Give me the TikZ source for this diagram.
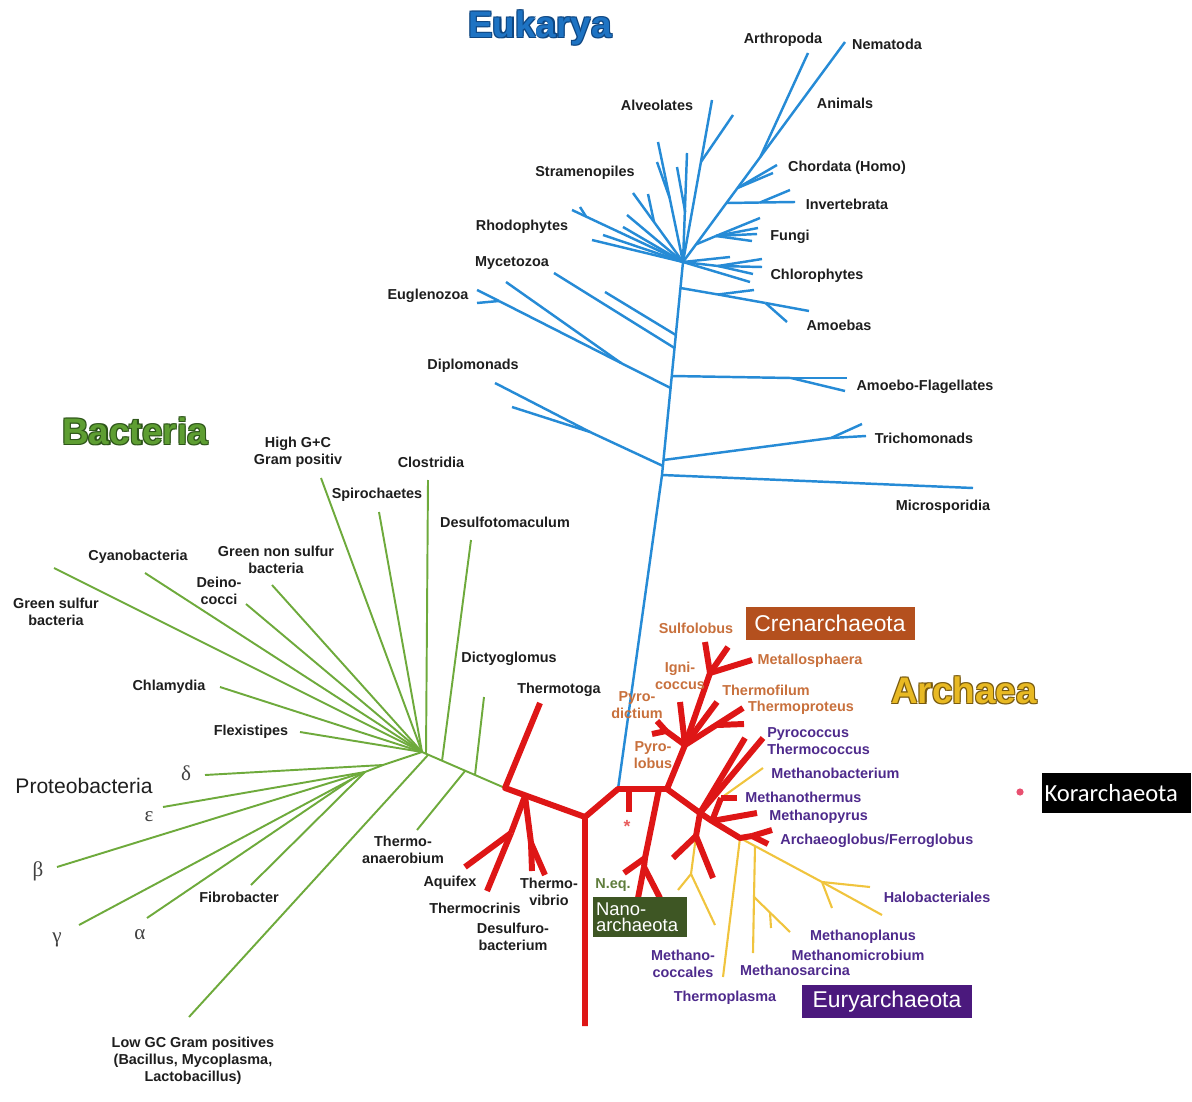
\documentclass[tikz,border=0pt]{standalone}
\usepackage{fontspec}
\setmainfont{Liberation Sans}
\newfontfamily\greekfont{Liberation Serif}
\newfontfamily\calfont{Carlito}

\definecolor{eukblue}{RGB}{38,139,214}
\definecolor{eukfill}{RGB}{30,115,195}
\definecolor{eukedge}{RGB}{14,70,130}
\definecolor{bacgreen}{RGB}{110,170,60}
\definecolor{bacfill}{RGB}{94,158,50}
\definecolor{bacedge}{RGB}{45,85,25}
\definecolor{arcred}{RGB}{222,22,22}
\definecolor{euryel}{RGB}{240,196,62}
\definecolor{arcfill}{RGB}{232,185,35}
\definecolor{arcedge}{RGB}{120,90,15}
\definecolor{crentext}{RGB}{200,112,60}
\definecolor{crenbox}{RGB}{180,80,30}
\definecolor{eurytext}{RGB}{78,42,140}
\definecolor{eurybox}{RGB}{75,25,125}
\definecolor{nanobox}{RGB}{62,86,36}
\definecolor{nanotext}{RGB}{95,125,60}
\definecolor{korpink}{RGB}{232,80,112}
\definecolor{labink}{RGB}{30,30,30}

% text with a darker rim, for the three domain titles
\newcommand{\rimtext}[3]{%
  \rlap{\color{#2}\hspace*{0.7pt}\raisebox{-0.7pt}{#3}}%
  \rlap{\color{#2}\hspace*{-0.5pt}\raisebox{0.5pt}{#3}}%
  \rlap{\color{#2}\hspace*{0.7pt}\raisebox{0.5pt}{#3}}%
  \rlap{\color{#2}\hspace*{-0.5pt}\raisebox{-0.7pt}{#3}}%
  \textcolor{#1}{#3}}

\tikzset{
  euk/.style={draw=eukblue, line width=1.4pt, line join=round},
  bac/.style={draw=bacgreen, line width=1.1pt},
  arc/.style={draw=arcred, line width=3.4pt, line join=round},
  eury/.style={draw=euryel, line width=1.2pt},
  lab/.style={font=\bfseries\fontsize{8.2}{9.8}\selectfont, text=labink, align=center, inner sep=0pt},
  crenlab/.style={lab, text=crentext},
  eurylab/.style={lab, text=eurytext},
  greek/.style={font=\greekfont\fontsize{12}{14}\selectfont, text=labink!85, inner sep=0pt},
  domtitle/.style={font=\bfseries\fontsize{21}{24}\selectfont, inner sep=0pt},
  grpbox/.style={fill=#1, text=white, font=\fontsize{13}{15}\selectfont, inner sep=0pt,
    minimum height=0.66cm}
}

\begin{document}
\begin{tikzpicture}[x=0.02cm,y=-0.02cm]
\useasboundingbox (0,0) rectangle (1192,1101);

% ---------- root of the tree
\coordinate (R1) at (505,788);
\coordinate (R0) at (585,817);
\coordinate (R2) at (618,789);
\coordinate (R3) at (667,789);
\coordinate (Rb) at (585,1026);

% ---------- Bacteria
\coordinate (H) at (422,752);
\coordinate (Dg) at (475,775);
\coordinate (Ta) at (465,771);
\coordinate (Ds) at (442,761);
\coordinate (Lg) at (428,755);
\coordinate (Cl) at (426,754);
\coordinate (P) at (383,765);
\coordinate (Q) at (365,772);
\coordinate (Q2) at (352,779);
\draw[bac] (R1) -- (H);
\draw[bac] (H) -- (P) -- (Q) -- (Q2);
\foreach \n/\x/\y/\b in {dict/484/697/Dg, tana/417/830/Ta, dsm/471/540/Ds,
    lgc/189/1017/Lg, clos/428/480/Cl, del/205/775/P, eps/163/807/Q,
    bet/57/867/Q, fib/251/885/Q, gam/79/925/Q2, alp/147/918/Q2}
  {\coordinate (b-\n) at (\x,\y); \draw[bac] (\b) -- (b-\n);}
\foreach \n/\x/\y in {hgc/321/478, spir/379/512, gns/272/585, dein/246/604,
    cyan/145/573, gsb/54/568, chla/220/687, flex/300/732}
  {\coordinate (b-\n) at (\x,\y); \draw[bac] (H) -- (b-\n);}

% ---------- Eukarya
\coordinate (emic) at (662,475);
\coordinate (ediplo) at (663,466);
\coordinate (etri) at (663.5,460);
\coordinate (eeug) at (670.6,388);
\coordinate (eaf) at (671.7,376);
\coordinate (ey1) at (674.5,348);
\coordinate (ey2) at (675.8,335);
\coordinate (eam) at (680.5,288);
\coordinate (crown) at (683,262);
\draw[euk] (R2) -- (emic) -- (crown);
% lower side branches
\coordinate (tf) at (831,438);
\coordinate (dj) at (590,432);
\coordinate (ej1) at (499,301);
\coordinate (ej2) at (621,363);
\coordinate (af1) at (791,378);
\coordinate (am1) at (718,294.5);
\coordinate (am2) at (765.5,303);
\draw[euk] (etri) -- (tf);
\draw[euk] (eeug) -- (ej2) -- (ej1);
\draw[euk] (eaf) -- (af1);
\draw[euk] (eam) -- (am1) -- (am2);
\draw[euk] (ediplo) -- (dj);
\foreach \n/\x/\y/\b in {mic/973/488/emic, tri1/862/424/tf, tri2/866/436/tf,
    dip1/495/383/dj, dip2/512/407/dj, eug1/477/290/ej1, eug2/477/303/ej1,
    eug3/506/282/ej2, myc1/554/273/ey1, myc2/605/292/ey2,
    af2/847/378/af1, af3/845/391/af1, amo1/754/290/am1, amo2/809/311/am2,
    amo3/787/322/am2}
  {\coordinate (e-\n) at (\x,\y); \draw[euk] (\b) -- (e-\n);}
% crown, right side
\coordinate (fu) at (696,244.4);
\coordinate (iv) at (726.4,203);
\coordinate (chd) at (737.5,188);
\coordinate (arj) at (760.3,157);
\coordinate (e-nem) at (845,42);
\coordinate (ivb) at (760,202.5);
\coordinate (fu2) at (716,236);
\coordinate (ch) at (718,266);
\draw[euk] (crown) -- (fu) -- (iv) -- (chd) -- (arj) -- (e-nem);
\draw[euk] (iv) -- (ivb);
\draw[euk] (fu) -- (fu2);
\draw[euk] (crown) -- (ch);
\foreach \n/\x/\y/\b in {arth/808/53/arj, hom1/777/165/chd, hom2/773/173/chd,
    inv1/795/202/ivb, inv2/790/190/ivb, fun1/760/218/fu2, fun2/758/228/fu2,
    fun3/757/234/fu2, fun4/752/241/fu2, chl1/730/257/crown, chl2/762/259/ch,
    chl3/762/267/ch, chl4/753/274/ch, chl5/750/282/crown}
  {\coordinate (e-\n) at (\x,\y); \draw[euk] (\b) -- (e-\n);}
% crown, left side
\coordinate (alj) at (700.9,162);
\coordinate (jy) at (685.2,212);
\coordinate (jx) at (669.7,198);
\coordinate (s1j) at (654,222);
\coordinate (rhj) at (586,216.5);
\foreach \n/\x/\y in {alv1/712/100, alv2/687/153, str1/658/142, str2/633/193,
    str3/627/215, str4/623/227, rho1/603/235, rho2/592/240, rho3/572/210}
  {\coordinate (e-\n) at (\x,\y); \draw[euk] (crown) -- (e-\n);}
\foreach \n/\x/\y/\b in {alv3/733/115/alj, alv4/677/167/jy, str5/657/162/jx,
    str6/648/194/s1j, rho4/580/207/rhj}
  {\coordinate (e-\n) at (\x,\y); \draw[euk] (\b) -- (e-\n);}

% ---------- Archaea, yellow branches (under the red ones)
\coordinate (E1) at (700,813);
\coordinate (E2) at (712,821);
\coordinate (E3) at (740,838);
\coordinate (mt1) at (721,798);
\coordinate (Mc) at (696,836);
\coordinate (My) at (691,874);
\coordinate (H1) at (822,882);
\coordinate (Ms0) at (755,846);
\coordinate (Msb) at (754,897);
\coordinate (Msc) at (770,912.6);
\draw[eury] (Mc) -- (My);
\draw[eury] (E3) -- (H1);
\draw[eury] (Ms0) -- (Msb);
\foreach \n/\x/\y/\b in {mba/763/768/mt1, tpl/723/977/E3, hal1/882/915/H1,
    hal2/870/887/H1, hal3/832/908/H1, msar/753/953/Msb, mpl/790/932/Msb,
    mmi/771/928/Msc, mco1/678/890/My, mco2/715/925/My}
  {\coordinate (y-\n) at (\x,\y); \draw[eury] (\b) -- (y-\n);}

% ---------- red part
\coordinate (r-tga) at (540,703);
\coordinate (A) at (525,796);
\coordinate (Aq) at (511,833);
\coordinate (Tv) at (531,843);
\coordinate (stub1) at (629,789);
\coordinate (stub2) at (629,812);
\coordinate (N0) at (659,789);
\coordinate (N1) at (645,858);
\coordinate (N2) at (644,867);
\coordinate (C1) at (685,745);
\coordinate (Sm) at (710,673);
\coordinate (Pa) at (666,731);
\coordinate (Tp) at (717,725);
\coordinate (Ag) at (752,836);
\draw[arc] (r-tga) -- (R1) -- (R0) -- (Rb);
\draw[arc] (R0) -- (R2) -- (R3);
\draw[arc] (A) -- (Aq);
\draw[arc] (A) -- (Tv);
\draw[arc] (stub1) -- (stub2);
\draw[arc] (N0) -- (N1) -- (N2);
\draw[arc] (R3) -- (C1) -- (Sm);
\draw[arc] (C1) -- (Pa);
\draw[arc] (R3) -- (E1) -- (E2) -- (E3) -- (Ag);
\draw[arc] (E2) -- (mt1);
\draw[arc] (E1) -- (Mc);
\foreach \n/\x/\y/\b in {tcr/487/891/Aq, aqx/465/867/Aq, tv1/532/871/Tv,
    tv2/545/875/Tv, nan1/624/873/N1, nan2/638/898/N2, nan3/660/898/N2,
    sulf/705/642/Sm, met1/728/647/Sm, met2/752/660/Sm, pdic/680/702/C1,
    pd1/657/721/Pa, pd2/652/734/Pa, tfil/717/702/C1, tpr1/743/708/C1,
    tpr2/744/724/Tp, pyr1/745/738/E1, pyr2/763/738/E1, mth/737/798/mt1,
    mpy/757/813/E2, ag1/772/830/Ag, ag2/768/844/Ag, mc1/673/858/Mc,
    mc2/713/878/Mc}
  {\coordinate (r-\n) at (\x,\y); \draw[arc] (\b) -- (r-\n);}

% ---------- domain titles
\node[domtitle] (t-euk) at (540,28) {\rimtext{eukfill}{eukedge}{Eukarya}};
\node[domtitle] (t-bac) at (135,431) {\rimtext{bacfill}{bacedge}{Bacteria}};
\node[domtitle] (t-arc) at (964,690) {\rimtext{arcfill}{arcedge}{Archaea}};

% ---------- Eukarya labels
\node[lab] (l-arth) at (783,40) {Arthropoda};
\node[lab] (l-nem) at (887,44) {Nematoda};
\node[lab] (l-alv) at (657,105) {Alveolates};
\node[lab] (l-ani) at (845,103) {Animals};
\node[lab] (l-hom) at (847,168) {Chordata (Homo)};
\node[lab] (l-str) at (585,173) {Stramenopiles};
\node[lab] (l-inv) at (847,204) {Invertebrata};
\node[lab] (l-rho) at (522,227) {Rhodophytes};
\node[lab] (l-fun) at (790,237) {Fungi};
\node[lab] (l-myc) at (512,263) {Mycetozoa};
\node[lab] (l-chl) at (817,276) {Chlorophytes};
\node[lab] (l-eug) at (428,296) {Euglenozoa};
\node[lab] (l-amo) at (839,325) {Amoebas};
\node[lab] (l-dip) at (473,366) {Diplomonads};
\node[lab] (l-af) at (925,387) {Amoebo-Flagellates};
\node[lab] (l-tri) at (924,438) {Trichomonads};
\node[lab] (l-mic) at (943,507) {Microsporidia};

% ---------- Bacteria labels
\node[lab] (l-hgc) at (298,452) {High G+C\\Gram positiv};
\node[lab] (l-clo) at (431,462) {Clostridia};
\node[lab] (l-spi) at (377,495) {Spirochaetes};
\node[lab] (l-dsm) at (505,522) {Desulfotomaculum};
\node[lab] (l-cya) at (138,557) {Cyanobacteria};
\node[lab] (l-gns) at (276,560) {Green non sulfur\\bacteria};
\node[lab] (l-dei) at (219,591) {Deino-\\cocci};
\node[lab] (l-gsb) at (56,612) {Green sulfur\\bacteria};
\node[lab] (l-dic) at (509,659) {Dictyoglomus};
\node[lab] (l-chla) at (169,687) {Chlamydia};
\node[lab] (l-tga) at (559,690) {Thermotoga};
\node[lab] (l-fle) at (251,732) {Flexistipes};
\node[font=\fontsize{12}{14}\selectfont, text=labink, inner sep=0pt] (l-pro) at (84,786) {Proteobacteria};
\node[greek] (g-del) at (186,773) {δ};
\node[greek] (g-eps) at (149,817) {ε};
\node[greek] (g-bet) at (38,871) {β};
\node[greek] (g-gam) at (57,940) {γ};
\node[greek] (g-alp) at (140,935) {α};
\node[lab] (l-tan) at (403,850) {Thermo-\\anaerobium};
\node[lab] (l-fib) at (239,897) {Fibrobacter};
\node[lab] (l-aqx) at (450,883) {Aquifex};
\node[lab] (l-tcr) at (475,908) {Thermocrinis};
\node[lab] (l-tvi) at (549,892) {Thermo-\\vibrio};
\node[lab] (l-dsb) at (513,937) {Desulfuro-\\bacterium};
\node[lab] (l-lgc) at (193,1061) {Low GC Gram positives\\(Bacillus, Mycoplasma,\\Lactobacillus)};

% ---------- Archaea labels
\node[grpbox=crenbox, minimum width=3.38cm] (b-cren) at (830,623.5) {Crenarchaeota};
\node[grpbox=eurybox, minimum width=3.4cm] (b-eury) at (887,1001.5) {Euryarchaeota};
\node[fill=nanobox, text=white, font=\fontsize{10.5}{9.2}\selectfont, inner sep=0pt,
  minimum width=1.88cm, minimum height=0.8cm, text width=1.76cm, align=left] (b-nano) at (640,917) {Nano-\\archaeota};
\node[fill=black, text=white, font=\calfont\fontsize{14}{16}\selectfont, inner sep=0pt,
  minimum height=0.8cm, text width=2.98cm, align=left] (b-kor) at (1116,793) {\hspace*{0.06cm}Korarchaeota};
\fill[korpink] (1020,792) circle (3.6);
\node[font=\bfseries\fontsize{10}{11}\selectfont, text=arcred!70, inner sep=0pt] (l-ast) at (627,826) {*};

\node[crenlab] (l-sul) at (696,628) {Sulfolobus};
\node[crenlab] (l-met) at (810,661) {Metallosphaera};
\node[crenlab] (l-ign) at (680,676) {Igni-\\coccus};
\node[crenlab] (l-pdi) at (637,705) {Pyro-\\dictium};
\node[crenlab] (l-tfi) at (766,690) {Thermofilum};
\node[crenlab] (l-tpr) at (801,708) {Thermoproteus};
\node[crenlab] (l-plo) at (653,755) {Pyro-\\lobus};

\node[eurylab, anchor=west, align=left] (l-pyr) at (767,741) {Pyrococcus\\Thermococcus};
\node[eurylab, anchor=west] (l-mba) at (771,773) {Methanobacterium};
\node[eurylab, anchor=west] (l-mth) at (745,797) {Methanothermus};
\node[eurylab, anchor=west] (l-mpy) at (769,817) {Methanopyrus};
\node[eurylab, anchor=west] (l-ag) at (780,841) {Archaeoglobus/Ferroglobus};
\node[eurylab] (l-hal) at (937,897) {Halobacteriales};
\node[eurylab] (l-mpl) at (863,937) {Methanoplanus};
\node[eurylab] (l-mmi) at (858,955) {Methanomicrobium};
\node[eurylab] (l-mco) at (683,964) {Methano-\\coccales};
\node[eurylab] (l-msa) at (795,970) {Methanosarcina};
\node[eurylab] (l-tpl) at (725,998) {Thermoplasma};
\node[lab, text=nanotext] (l-neq) at (613,885) {N.eq.};
\end{tikzpicture}
\end{document}
